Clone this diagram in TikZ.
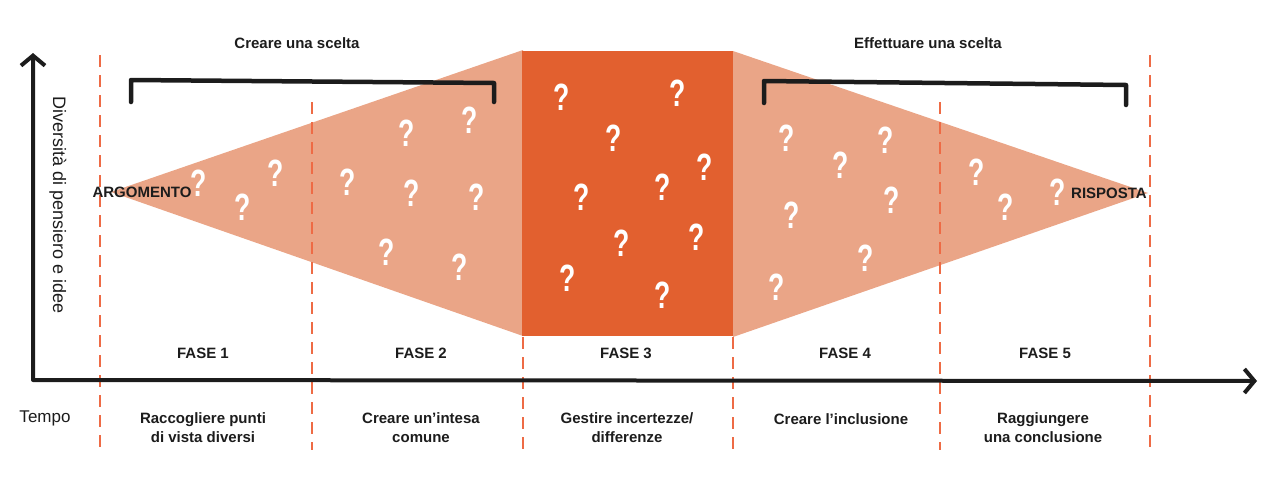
\documentclass[tikz,border=0pt]{standalone}
\usepackage{fontspec}
\setmainfont{Liberation Sans}
\usetikzlibrary{arrows.meta}
\definecolor{lightsal}{HTML}{EAA587}
\definecolor{darkor}{HTML}{E2602F}
\definecolor{dashor}{HTML}{EE6B45}
\definecolor{inkblack}{HTML}{1C1C1C}
\begin{document}
\begin{tikzpicture}[x=1pt,y=-1pt,
  lbl/.style={font=\fontsize{15}{19}\selectfont\bfseries, text=inkblack, inner sep=0pt, align=center},
  plain/.style={font=\fontsize{17}{20}\selectfont, text=inkblack, inner sep=0pt},
  qm/.style={text=white, font=\fontsize{38}{38}\selectfont\bfseries, inner sep=0pt},
  dashline/.style={draw=dashor, line width=2pt, dash pattern=on 12pt off 8pt},
  bracketline/.style={draw=inkblack, line width=4.5pt, line cap=round, line join=round},
  axisline/.style={draw=inkblack, line width=4pt, line cap=round, line join=round,
     arrows={Straight Barb[length=10pt,width=24pt,line width=4pt]-Straight Barb[length=10pt,width=24pt,line width=4pt]}}
]
\useasboundingbox (0,0) rectangle (1274,477);
% shapes
\fill[lightsal] (111,192) -- (523,50) -- (523,336) -- cycle;
\fill[lightsal] (733,51) -- (1148,193) -- (733,337) -- cycle;
\fill[darkor] (522,51) rectangle (733,336);
% question marks
\foreach \qx/\qy [count=\i] in {
  199/183, 243/207, 276/173, 348/182, 412/193, 477/197, 407/133, 470/120, 387/252, 460/267,
  562/97, 678/93, 614/138, 705/167, 663/187, 582/197, 622/243, 697/237, 568/278, 663/295,
  787/138, 886/140, 841/165, 892/200, 792/215, 866/258, 777/287, 977/172, 1006/207, 1058/192}
  \node[qm] (q\i) at (\qx,\qy) {\scalebox{0.7}[1]{?}};
% dashed phase lines
\draw[dashline] (100,55) -- (100,447);
\draw[dashline] (312,102) -- (312,450);
\draw[dashline] (523,337) -- (523,455);
\draw[dashline] (733,337) -- (733,453);
\draw[dashline] (940,102) -- (940,450);
\draw[dashline] (1150,55) -- (1150,450);
% brackets
\draw[bracketline] (131,102) -- (131,80) -- (494,83) -- (494,102);
\draw[bracketline] (764,103) -- (764,81) -- (1126,85) -- (1126,105);
% axes
\coordinate (ytop) at (33,53);
\coordinate (origin) at (33,380);
\coordinate (xend) at (1257,381);
\draw[axisline] (ytop) -- (origin) -- (xend);
% texts
\node[lbl] (t1) at (297,43) {Creare una scelta};
\node[lbl] (t2) at (928,43) {Effettuare una scelta};
\node[plain, rotate=-90, font=\fontsize{18}{20}\selectfont] (ylab) at (58,205) {Diversità di pensiero e idee};
\node[lbl] (arg) at (142,192) {ARGOMENTO};
\node[lbl] (ris) at (1109,193) {RISPOSTA};
\node[lbl] (f1) at (203,353) {FASE 1};
\node[lbl] (f2) at (421,353) {FASE 2};
\node[lbl] (f3) at (626,353) {FASE 3};
\node[lbl] (f4) at (845,353) {FASE 4};
\node[lbl] (f5) at (1045,353) {FASE 5};
\node[plain] (tempo) at (45,418) {Tempo};
\node[lbl] (d1) at (203,428) {Raccogliere punti\\di vista diversi};
\node[lbl] (d2) at (421,428) {Creare un’intesa\\comune};
\node[lbl] (d3) at (627,428) {Gestire incertezze/\\differenze};
\node[lbl] (d4) at (841,419) {Creare l’inclusione};
\node[lbl] (d5) at (1043,428) {Raggiungere\\una conclusione};
\end{tikzpicture}
\end{document}
